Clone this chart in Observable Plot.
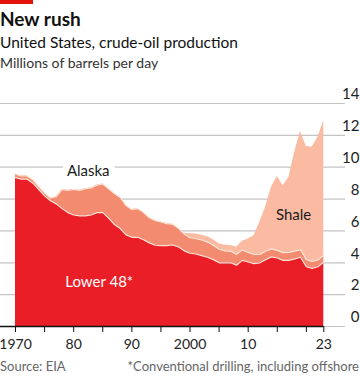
<!DOCTYPE html>
<html>
<head>
<meta charset="utf-8">
<script src="https://cdn.jsdelivr.net/npm/d3@7"></script>
<script src="https://cdn.jsdelivr.net/npm/@observablehq/plot@0.6"></script>
<style>
  html, body { margin: 0; padding: 0; background: #fff; }
  body { width: 360px; height: 384px; position: relative; overflow: hidden; font-family: Lato, "Noto Sans", sans-serif; }
  .t { position: absolute; left: 0; white-space: nowrap; line-height: 1.2; }
  #bar { position: absolute; left: 0; top: 0; width: 33px; height: 4px; background: #e3120b; }
  #title { top: 8px; font-size: 19px; font-weight: 700; color: #111; }
  #sub { top: 33px; font-size: 15.5px; color: #111; }
  #units { top: 54.5px; font-size: 14px; color: #333; }
  #chart { position: absolute; left: 0; top: 80px; }
  #src { top: 359px; font-size: 13px; color: #666; }
  #note { top: 359px; right: 1px; left: auto; font-size: 13px; color: #666; }
</style>
</head>
<body>
<div id="bar"></div>
<div class="t" id="title">New rush</div>
<div class="t" id="sub">United States, crude-oil production</div>
<div class="t" id="units">Millions of barrels per day</div>
<div id="chart"></div>
<div class="t" id="src">Source: EIA</div>
<div class="t" id="note">*Conventional drilling, including offshore</div>
<script>
const years = [1970,1971,1972,1973,1974,1975,1976,1977,1978,1979,
  1980,1981,1982,1983,1984,1985,1986,1987,1988,1989,
  1990,1991,1992,1993,1994,1995,1996,1997,1998,1999,
  2000,2001,2002,2003,2004,2005,2006,2007,2008,2009,
  2010,2011,2012,2013,2014,2015,2016,2017,2018,2019,
  2020,2021,2022,2023];
const lower48 = [9.35,9.25,9.25,9.0,8.6,8.2,7.9,7.7,7.4,7.15,
  7.0,6.95,6.95,7.0,7.15,7.15,6.8,6.4,6.15,5.75,
  5.6,5.6,5.45,5.25,5.1,5.08,5.08,5.12,5.0,4.75,
  4.6,4.55,4.45,4.35,4.2,4.0,4.0,4.0,3.85,4.15,
  4.05,3.95,4.0,4.2,4.37,4.3,4.15,4.15,4.25,4.35,
  3.75,3.65,3.75,4.05];
const alaska = [0.22,0.2,0.2,0.2,0.19,0.19,0.17,0.45,1.2,1.4,
  1.6,1.6,1.7,1.7,1.72,1.8,1.85,1.95,1.95,1.85,
  1.75,1.8,1.7,1.58,1.55,1.48,1.38,1.3,1.17,1.05,
  0.97,0.96,0.98,0.95,0.9,0.85,0.75,0.72,0.68,0.65,
  0.6,0.57,0.53,0.52,0.5,0.48,0.49,0.5,0.48,0.47,
  0.45,0.44,0.43,0.42];
const shale = [0,0,0,0,0,0,0,0,0,0,
  0,0,0,0,0,0,0,0,0,0,
  0,0,0,0,0,0,0,0,0,0.05,
  0.25,0.3,0.3,0.33,0.34,0.35,0.35,0.36,0.45,0.55,
  0.85,1.18,2.02,2.78,3.88,4.64,4.21,4.7,6.22,7.43,
  7.1,7.16,7.72,8.43];
const yTicks = [0,2,4,6,8,10,12,14];
const xTicks = [1970,1975,1980,1985,1990,1995,2000,2005,2010,2015,2020,2023];
const xTickLabels = {1970:"1970",1980:"80",1990:"90",2000:"2000",2010:"10",2023:"23"};
const seriesLabels = [
  {name: "Alaska", year: 1982.5, value: 9.75, color: "#1a1a1a", halo: true},
  {name: "Shale", year: 2017.8, value: 7.0, color: "#1a1a1a", halo: false},
  {name: "Lower 48*", year: 1984.4, value: 2.77, color: "#ffffff", halo: false}
];

const rows = years.map((y, i) => {
  const a = lower48[i], b = a + alaska[i], c = b + shale[i];
  return {year: y, l48: a, ak: b, total: c};
});

const colRed = "#e91e27", colAk = "#f28b6f", colShale = "#fbbaa2", sep = "#fde6d6";
const xMin = 1967.42, xMax = 2026.73;

const chart = Plot.plot({
  width: 360,
  height: 275,
  marginTop: 23,
  marginBottom: 29,
  marginLeft: 0,
  marginRight: 15,
  x: {domain: [xMin, xMax]},
  y: {domain: [0, 14], axis: null},
  style: {fontFamily: "Lato, 'Noto Sans', sans-serif", background: "transparent"},
  marks: [
    Plot.gridY(yTicks, {stroke: "#c4c4c4", strokeOpacity: 1, strokeWidth: 1.2}),
    Plot.areaY(rows, {x: "year", y1: "ak", y2: "total", fill: colShale, curve: "linear"}),
    Plot.areaY(rows, {x: "year", y1: "l48", y2: "ak", fill: colAk}),
    Plot.areaY(rows, {x: "year", y1: 0, y2: "l48", fill: colRed}),
    Plot.lineY(rows, {x: "year", y: "ak", stroke: sep, strokeWidth: 1.2}),
    Plot.lineY(rows, {x: "year", y: "l48", stroke: sep, strokeWidth: 1.2}),
    Plot.ruleY([0], {x1: xMin, x2: years[years.length - 1], stroke: "#111", strokeWidth: 1.5}),
    Plot.axisX({ticks: xTicks, tickSize: 6, tickPadding: 7, tickFormat: d => xTickLabels[d] || "", fontSize: 14, color: "#222", label: null, stroke: "#111"}),
    Plot.text(yTicks, {y: d => d, text: d => String(d), frameAnchor: "right", textAnchor: "end", dx: 14, dy: -9, fontSize: 15, fill: "#222"}),
    Plot.text(seriesLabels.filter(d => d.halo), {x: "year", y: "value", text: "name", fill: "#fff", stroke: "#fff", strokeWidth: 14, strokeLinejoin: "round", fontSize: 15}),
    Plot.text(seriesLabels, {x: "year", y: "value", text: "name", fill: "color", fontSize: 15})
  ]
});
document.getElementById("chart").appendChild(chart);
</script>
</body>
</html>
